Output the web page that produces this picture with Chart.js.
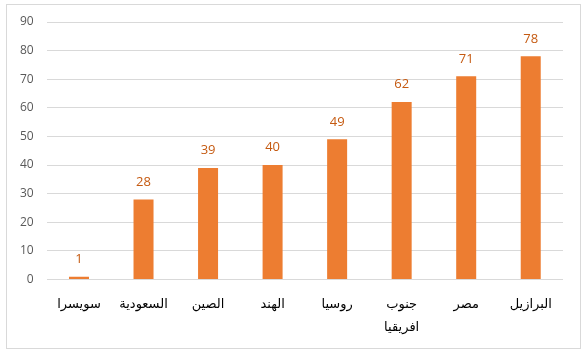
<!DOCTYPE html>
<html><head><meta charset="utf-8">
<script src="https://cdn.jsdelivr.net/npm/chart.js@4/dist/chart.umd.min.js"></script>
<style>
html,body{margin:0;padding:0;background:#fff;}
#box{position:absolute;left:6px;top:4px;width:575px;height:345px;border:1px solid #d9d9d9;box-sizing:border-box;}
#wrap{position:absolute;left:0;top:0;width:586px;height:363px;}
canvas{display:block;}
</style></head>
<body>
<div id="box"></div>
<div id="wrap"><canvas id="c"></canvas></div>
<script>
const categories = ['سويسرا','السعودية','الصين','الهند','روسيا',['جنوب','افريقيا'],'مصر','البرازيل'];
const values = [1,28,39,40,49,62,71,78];
const yTicks = {min:0,max:90,step:10};

const labelPlugin = {
  id:'barLabels',
  afterDatasetsDraw(chart){
    const ctx = chart.ctx;
    const meta = chart.getDatasetMeta(0);
    ctx.save();
    ctx.fillStyle = '#C55A11';
    ctx.font = '13px "Open Sans", "DejaVu Sans", sans-serif';
    ctx.textAlign = 'center';
    ctx.textBaseline = 'bottom';
    meta.data.forEach((bar,i)=>{
      ctx.fillText(String(values[i]), bar.x, bar.y - 11);
    });
    ctx.restore();
  }
};

new Chart(document.getElementById('c'),{
  type:'bar',
  data:{labels:categories,datasets:[{data:values,backgroundColor:'#ED7D31',categoryPercentage:0.62,barPercentage:0.5}]},
  options:{
    responsive:true,maintainAspectRatio:false,animation:false,
    layout:{padding:{top:22,right:23,bottom:10,left:7}},
    plugins:{legend:{display:false},tooltip:{enabled:false}},
    scales:{
      x:{grid:{display:false,drawTicks:false},border:{display:false},
         ticks:{color:'#000',padding:14,font:{family:'"DejaVu Sans", sans-serif',size:13,lineHeight:1.75}}},
      y:{min:yTicks.min,max:yTicks.max,grid:{color:'#d9d9d9',drawTicks:false},border:{display:false},
         ticks:{stepSize:yTicks.step,color:'#595959',padding:13,font:{family:'"Open Sans", sans-serif',size:12}}}
    }
  },
  plugins:[labelPlugin]
});
</script>
</body></html>
